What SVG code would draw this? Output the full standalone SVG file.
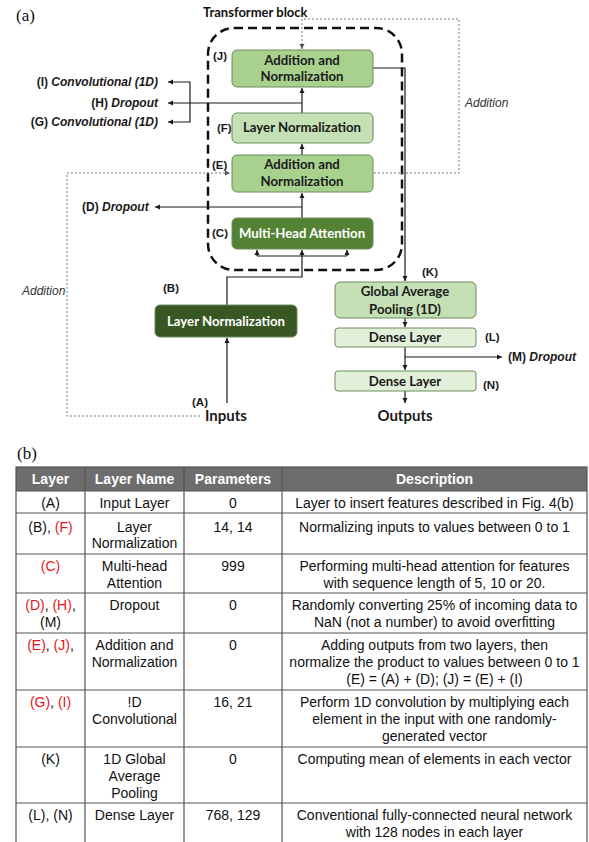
<svg xmlns="http://www.w3.org/2000/svg" width="589" height="842" viewBox="0 0 589 842">
<style>
.bx{stroke:#6a8a5c;stroke-width:1}
.mid{fill:#a9d18e}
.lite{fill:#c5e0b4}
.pale{fill:#e2f0d9}
.dark{fill:#548235}
.darker{fill:#385723}
.bt{font-family:Lato,"Liberation Sans",sans-serif;font-weight:bold;font-size:13.2px;fill:#1a1a1a;text-anchor:middle}
.wt{fill:#ffffff}
.lb{font-family:"Liberation Sans",Arial,sans-serif;font-weight:bold;font-size:11.5px;fill:#1a1a1a}
.sl{font-size:12px}
.it{font-style:italic}
.add{font-family:"Liberation Sans",Arial,sans-serif;font-style:italic;font-size:12px;fill:#333}
.big{font-family:Lato,"Liberation Sans",sans-serif;font-weight:bold;font-size:15px;fill:#1a1a1a}
.cn{fill:none;stroke:#1a1a1a;stroke-width:1.2}
.dt{fill:none;stroke:#777;stroke-width:1;stroke-dasharray:2 2}
.tb{font-family:"Liberation Sans",Arial,sans-serif;font-size:14px;fill:#111;text-anchor:middle}
.th{font-family:"Liberation Sans",Arial,sans-serif;font-size:14px;font-weight:bold;fill:#fff;text-anchor:middle}
.red{fill:#e8141b}
.gl{stroke:#555;stroke-width:1.2;fill:none}
</style>
<defs>
<marker id="ar" markerUnits="userSpaceOnUse" markerWidth="6" markerHeight="6" refX="5" refY="3" orient="auto">
<path d="M0,0.5 L5,3 L0,5.5 z" fill="#1a1a1a"/>
</marker>
<marker id="ag" markerUnits="userSpaceOnUse" markerWidth="6" markerHeight="6" refX="5" refY="3" orient="auto">
<path d="M0,0.5 L5,3 L0,5.5 z" fill="#555"/>
</marker>
</defs>
<rect width="589" height="842" fill="#fff"/>
<text x="16" y="21" font-family="Liberation Serif,serif" font-size="17" fill="#111">(a)</text>
<text x="203" y="17" font-family="Lato,Liberation Sans,sans-serif" font-weight="bold" font-size="13" fill="#111">Transformer block</text>
<rect id="transformer-block" x="208" y="28" width="194" height="242" rx="26" fill="none" stroke="#111" stroke-width="2.5" stroke-dasharray="9 5"/>

<g id="connectors">
<path class="cn" d="M227,403 V338" marker-end="url(#ar)"/>
<path class="cn" d="M227,305 V277 H302 V250" marker-end="url(#ar)"/>
<path class="cn" d="M257,256 H347"/>
<path class="cn" d="M257,256 V250" marker-end="url(#ar)"/>
<path class="cn" d="M347,256 V250" marker-end="url(#ar)"/>
<path class="cn" d="M302,218 V193" marker-end="url(#ar)"/>
<path class="cn" d="M302,207 H155" marker-end="url(#ar)"/>
<path class="cn" d="M302,155 V144" marker-end="url(#ar)"/>
<path class="cn" d="M302,113 V88" marker-end="url(#ar)"/>
<path class="cn" d="M302,103 H168" marker-end="url(#ar)"/>
<path class="cn" d="M190,103 V82 H168" marker-end="url(#ar)"/>
<path class="cn" d="M190,103 V122 H168" marker-end="url(#ar)"/>
<path class="cn" d="M373,68 H405 V281" marker-end="url(#ar)"/>
<path class="cn" d="M405,318 V327" marker-end="url(#ar)"/>
<path class="cn" d="M405,347 V370" marker-end="url(#ar)"/>
<path class="cn" d="M405,357 H502" marker-end="url(#ar)"/>
<path class="cn" d="M405,391 V403" marker-end="url(#ar)"/>
<path class="dt" d="M200,416 H67 V173 H230" marker-end="url(#ag)"/>
<path class="dt" d="M374,173 H459 V19 H302 V49" marker-end="url(#ag)"/>
</g>

<g id="node-J">
<rect class="bx mid" x="232" y="50" width="141" height="37" rx="5"/>
<text class="bt" x="302" y="65">Addition and</text>
<text class="bt" x="302" y="81">Normalization</text>
<text class="lb" x="213" y="60">(J)</text>
</g>
<g id="node-F">
<rect class="bx lite" x="232" y="113" width="141" height="30" rx="5"/>
<text class="bt" x="302" y="132">Layer Normalization</text>
<text class="lb" x="217" y="132">(F)</text>
</g>
<g id="node-E">
<rect class="bx mid" x="232" y="155" width="141" height="37" rx="5"/>
<text class="bt" x="302" y="169">Addition and</text>
<text class="bt" x="302" y="186">Normalization</text>
<text class="lb" x="212" y="169">(E)</text>
</g>
<g id="node-C">
<rect class="bx dark" x="232" y="218" width="141" height="31" rx="5"/>
<text class="bt wt" x="302" y="238">Multi-Head Attention</text>
<text class="lb" x="212" y="237">(C)</text>
</g>
<g id="node-B">
<rect class="bx darker" x="155" y="305" width="142" height="32" rx="5"/>
<text class="bt wt" x="226" y="326">Layer Normalization</text>
<text class="lb" x="163" y="292">(B)</text>
</g>
<g id="node-A">
<text class="lb" x="192" y="406">(A)</text>
<text class="big" x="205" y="421">Inputs</text>
</g>
<g id="node-K">
<rect class="bx lite" x="335" y="282" width="141" height="36" rx="5"/>
<text class="bt" x="405" y="296">Global Average</text>
<text class="bt" x="405" y="314">Pooling (1D)</text>
<text class="lb" x="422" y="276">(K)</text>
</g>
<g id="node-L">
<rect class="bx pale" x="335" y="328" width="141" height="19" rx="3"/>
<text class="bt" x="405" y="342">Dense Layer</text>
<text class="lb" x="485" y="341">(L)</text>
</g>
<g id="node-N">
<rect class="bx pale" x="335" y="371" width="141" height="20" rx="3"/>
<text class="bt" x="405" y="386">Dense Layer</text>
<text class="lb" x="483" y="389">(N)</text>
</g>
<g id="node-outputs">
<text class="big" x="405" y="421" text-anchor="middle">Outputs</text>
</g>
<g id="side-labels">
<text class="lb sl" x="158" y="86" text-anchor="end">(I) <tspan class="it">Convolutional (1D)</tspan></text>
<text class="lb sl" x="158" y="107" text-anchor="end">(H) <tspan class="it">Dropout</tspan></text>
<text class="lb sl" x="158" y="126" text-anchor="end">(G) <tspan class="it">Convolutional (1D)</tspan></text>
<text class="lb sl" x="82" y="211">(D) <tspan class="it">Dropout</tspan></text>
<text class="lb sl" x="508" y="361">(M) <tspan class="it">Dropout</tspan></text>
<text class="add" x="22" y="295">Addition</text>
<text class="add" x="465" y="107">Addition</text>
</g>

<text x="17" y="459" font-family="Liberation Serif,serif" font-size="17" fill="#111">(b)</text>
<g id="table">
<rect x="16" y="467" width="571" height="24" fill="#6d6d6d"/>
<rect class="gl" x="16" y="467" width="571" height="380" stroke-width="1.5"/>
<path class="gl" d="M85,467 V842 M184,467 V842 M282,467 V842 M16,491 H587 M16,513 H587 M16,554 H587 M16,593 H587 M16,633 H587 M16,690 H587 M16,747 H587 M16,803 H587"/>
<text class="th" x="50.5" y="484">Layer</text>
<text class="th" x="134.5" y="484">Layer Name</text>
<text class="th" x="233" y="484">Parameters</text>
<text class="th" x="434.5" y="484">Description</text>

<text class="tb" x="50.5" y="508">(A)</text>
<text class="tb" x="134.5" y="508">Input Layer</text>
<text class="tb" x="233" y="508">0</text>
<text class="tb" x="434.5" y="508">Layer to insert features described in Fig. 4(b)</text>

<text class="tb" x="50.5" y="532">(B), <tspan class="red">(F)</tspan></text>
<text class="tb" x="134.5" y="532">Layer</text>
<text class="tb" x="134.5" y="548">Normalization</text>
<text class="tb" x="233" y="532">14, 14</text>
<text class="tb" x="434.5" y="532">Normalizing inputs to values between 0 to 1</text>

<text class="tb red" x="50.5" y="571">(C)</text>
<text class="tb" x="134.5" y="571">Multi-head</text>
<text class="tb" x="134.5" y="588">Attention</text>
<text class="tb" x="233" y="571">999</text>
<text class="tb" x="434.5" y="571">Performing multi-head attention for features</text>
<text class="tb" x="434.5" y="588">with sequence length of 5, 10 or 20.</text>

<text class="tb" x="50.5" y="610"><tspan class="red">(D)</tspan>, <tspan class="red">(H)</tspan>,</text>
<text class="tb" x="50.5" y="627">(M)</text>
<text class="tb" x="134.5" y="610">Dropout</text>
<text class="tb" x="233" y="610">0</text>
<text class="tb" x="434.5" y="610">Randomly converting 25% of incoming data to</text>
<text class="tb" x="434.5" y="627">NaN (not a number) to avoid overfitting</text>

<text class="tb" x="50.5" y="650"><tspan class="red">(E)</tspan>, <tspan class="red">(J)</tspan>,</text>
<text class="tb" x="134.5" y="650">Addition and</text>
<text class="tb" x="134.5" y="667">Normalization</text>
<text class="tb" x="233" y="650">0</text>
<text class="tb" x="434.5" y="650">Adding outputs from two layers, then</text>
<text class="tb" x="434.5" y="667">normalize the product to values between 0 to 1</text>
<text class="tb" x="434.5" y="684">(E) = (A) + (D); (J) = (E) + (I)</text>

<text class="tb" x="50.5" y="707"><tspan class="red">(G)</tspan>, <tspan class="red">(I)</tspan></text>
<text class="tb" x="134.5" y="707">!D</text>
<text class="tb" x="134.5" y="724">Convolutional</text>
<text class="tb" x="233" y="707">16, 21</text>
<text class="tb" x="434.5" y="707">Perform 1D convolution by multiplying each</text>
<text class="tb" x="434.5" y="724">element in the input with one randomly-</text>
<text class="tb" x="434.5" y="741">generated vector</text>

<text class="tb" x="50.5" y="764">(K)</text>
<text class="tb" x="134.5" y="764">1D Global</text>
<text class="tb" x="134.5" y="781">Average</text>
<text class="tb" x="134.5" y="798">Pooling</text>
<text class="tb" x="233" y="764">0</text>
<text class="tb" x="434.5" y="764">Computing mean of elements in each vector</text>

<text class="tb" x="50.5" y="820">(L), (N)</text>
<text class="tb" x="134.5" y="820">Dense Layer</text>
<text class="tb" x="233" y="820">768, 129</text>
<text class="tb" x="434.5" y="820">Conventional fully-connected neural network</text>
<text class="tb" x="434.5" y="837">with 128 nodes in each layer</text>
</g>
</svg>
